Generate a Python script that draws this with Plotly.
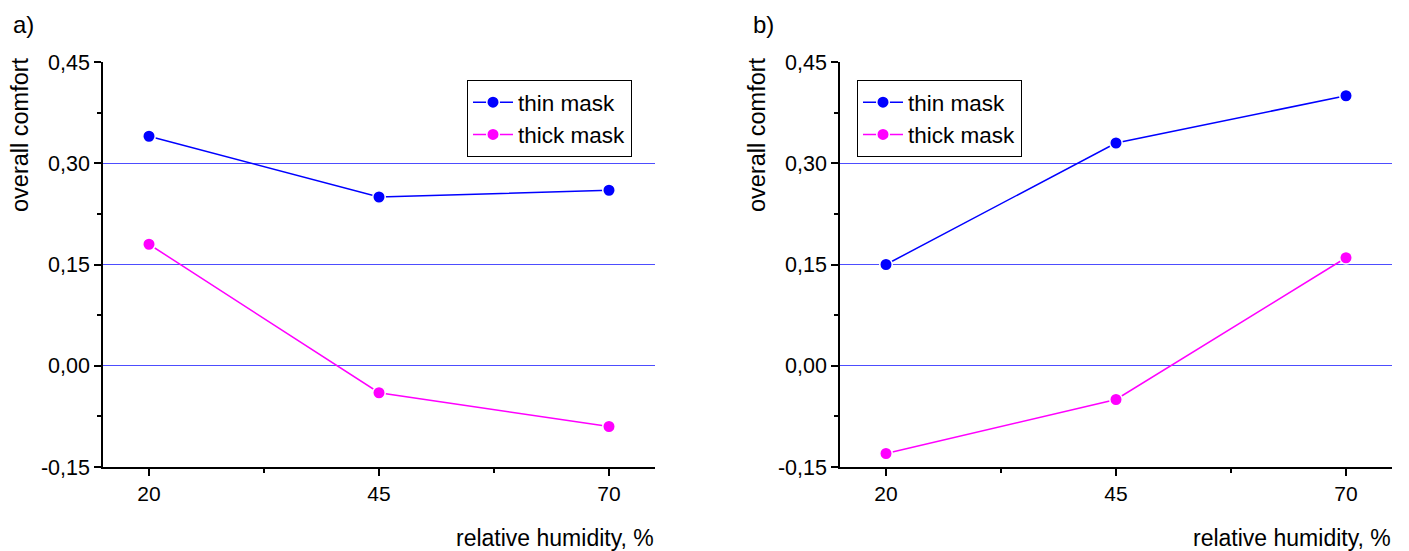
import plotly.graph_objects as go

humidity = [20, 45, 70]
thin_a = [0.34, 0.25, 0.26]
thick_a = [0.18, -0.04, -0.09]
thin_b = [0.15, 0.33, 0.40]
thick_b = [-0.13, -0.05, 0.16]
series_names = ["thin mask", "thick mask"]
y_tickvals = [-0.15, 0.00, 0.15, 0.30, 0.45]
y_ticktext = ["-0,15", "0,00", "0,15", "0,30", "0,45"]
x_tickvals = [20, 45, 70]
panel_labels = ["a)", "b)"]
y_title = "overall comfort"
x_title = "relative humidity, %"

BLUE = "#0000ff"
MAGENTA = "#ff00ff"
FONT = "Liberation Sans, Arial, sans-serif"
OFF = 8  # page body margin
W, H = 1409 - OFF, 551 - OFF

fig = go.Figure()

def add_series(x, y, name, color, xa, ya, legend):
    fig.add_trace(go.Scatter(
        x=x, y=y, name=name, mode="lines+markers",
        line=dict(color=color, width=1.5),
        marker=dict(color=color, size=12.5, line=dict(color="white", width=1.5)),
        xaxis=xa, yaxis=ya, legend=legend, showlegend=True,
    ))

add_series(humidity, thin_a, series_names[0], BLUE, "x", "y", "legend")
add_series(humidity, thick_a, series_names[1], MAGENTA, "x", "y", "legend")
add_series(humidity, thin_b, series_names[0], BLUE, "x2", "y2", "legend2")
add_series(humidity, thick_b, series_names[1], MAGENTA, "x2", "y2", "legend2")

def px_x(p):
    return (p - OFF) / W

def px_y(p):
    return 1 - (p - OFF) / H

ydom = [px_y(467), px_y(62)]

xaxis_common = dict(
    range=[15, 75], tickvals=x_tickvals, ticks="outside", ticklen=7, tickwidth=1.5,
    tickcolor="black", showline=True, linecolor="black", linewidth=1.5,
    showgrid=False, zeroline=False, automargin=False,
    tickfont=dict(size=21, color="black", family=FONT),
    minor=dict(tickvals=[32.5, 57.5], ticks="outside", ticklen=4, tickwidth=1.5,
               tickcolor="black", showgrid=False),
    fixedrange=True,
)
yaxis_common = dict(
    range=[-0.15, 0.45], tickvals=y_tickvals, ticktext=y_ticktext, ticks="outside",
    ticklen=7, tickwidth=1.5, tickcolor="black", showline=True, linecolor="black",
    linewidth=1.5, showgrid=True, gridcolor="#4d4dff", gridwidth=1, zeroline=False,
    automargin=False,
    tickfont=dict(size=21.5, color="black", family=FONT),
    minor=dict(tickvals=[-0.075, 0.075, 0.225, 0.375], ticks="outside", ticklen=4,
               tickwidth=1.5, tickcolor="black", showgrid=False),
    fixedrange=True,
)

legend_common = dict(
    xanchor="left", yanchor="top", bordercolor="black", borderwidth=1, bgcolor="white",
    font=dict(size=22.5, family=FONT, color="black"), tracegroupgap=0, itemwidth=40,
)

fig.update_layout(
    width=W, height=H,
    margin=dict(l=0, r=0, t=0, b=0, autoexpand=False),
    paper_bgcolor="white", plot_bgcolor="white",
    font=dict(family=FONT, size=21, color="black"),
    xaxis=dict(domain=[px_x(103), px_x(655)], anchor="y", **xaxis_common),
    yaxis=dict(domain=ydom, anchor="x", **yaxis_common),
    xaxis2=dict(domain=[px_x(840), px_x(1392)], anchor="y2", **xaxis_common),
    yaxis2=dict(domain=ydom, anchor="x2", **yaxis_common),
    legend=dict(x=px_x(467), y=px_y(80), **legend_common),
    legend2=dict(x=px_x(857), y=px_y(80), **legend_common),
    showlegend=True,
)

annotations = [
    dict(text=panel_labels[0], x=px_x(11), y=px_y(24), xanchor="left", yanchor="middle", size=24),
    dict(text=panel_labels[1], x=px_x(751), y=px_y(24), xanchor="left", yanchor="middle", size=24),
    dict(text=y_title, x=px_x(20), y=px_y(135), textangle=-90, xanchor="center", yanchor="middle", size=23.5),
    dict(text=y_title, x=px_x(757), y=px_y(135), textangle=-90, xanchor="center", yanchor="middle", size=23.5),
    dict(text=x_title, x=px_x(656), y=px_y(538), xanchor="right", yanchor="middle", size=23),
    dict(text=x_title, x=px_x(1393), y=px_y(538), xanchor="right", yanchor="middle", size=23),
]
for a in annotations:
    size = a.pop("size")
    fig.add_annotation(xref="paper", yref="paper", showarrow=False,
                       font=dict(size=size, family=FONT, color="black"), **a)

fig.write_html("out.html")
